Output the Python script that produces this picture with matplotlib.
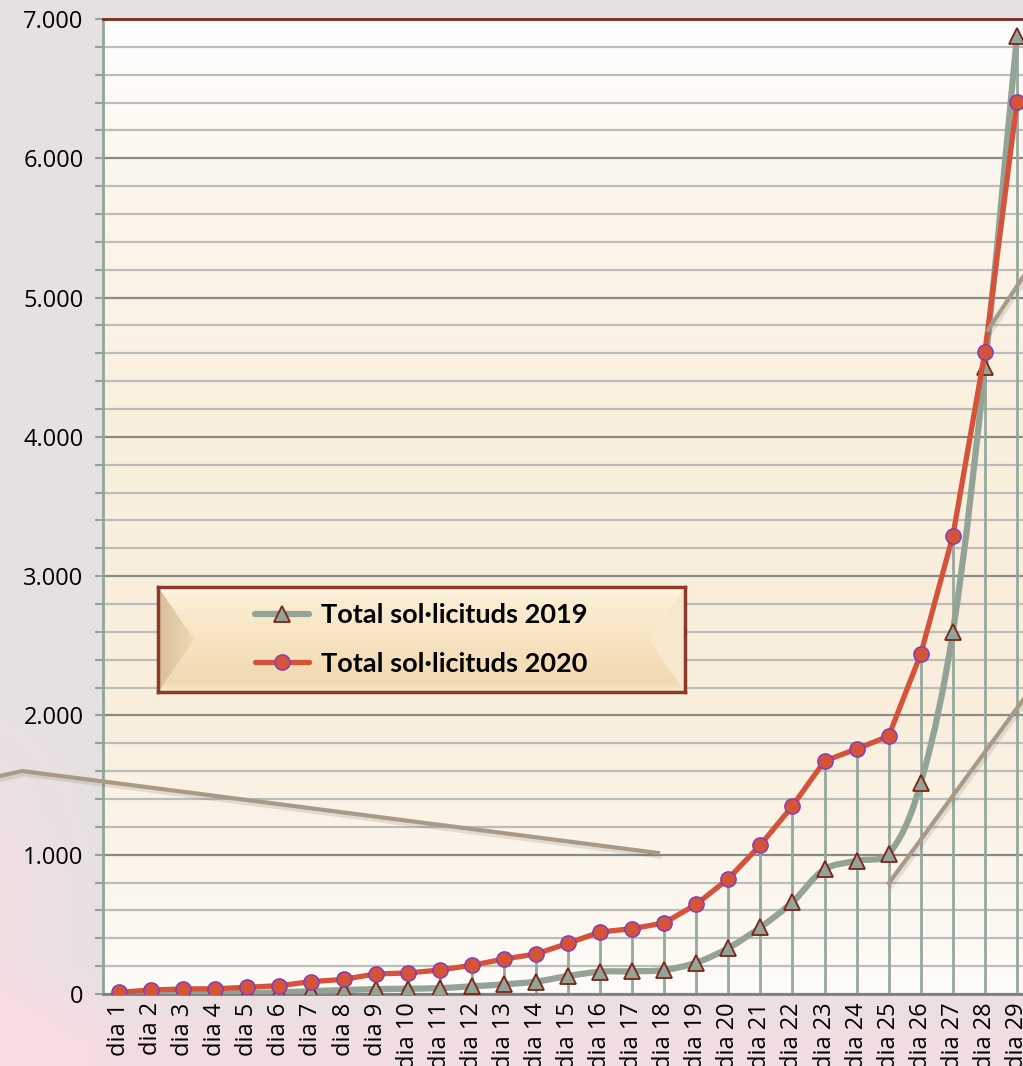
import numpy as np
import matplotlib
matplotlib.use("Agg")
import matplotlib.pyplot as plt
from matplotlib.path import Path
from matplotlib.patches import PathPatch
from matplotlib.lines import Line2D
from matplotlib import patheffects as pe
from matplotlib.colors import to_rgb

# data
days = [f"dia {i}" for i in range(1, 30)]
total_2019 = [2, 4, 5, 7, 8, 12, 20, 28, 35, 38, 42, 55, 69, 89, 129, 160, 163,
              172, 225, 330, 479, 660, 895, 957, 1005, 1515, 2599, 4501, 6878]
total_2020 = [12, 29, 36, 38, 48, 60, 89, 105, 144, 151, 172, 206, 251, 287, 364,
              445, 469, 510, 644, 828, 1070, 1350, 1673, 1759, 1852, 2441, 3288,
              4609, 6404]
labels = ["Total sol·licituds 2019", "Total sol·licituds 2020"]

W, H = 1023, 1066
GREY = "#93a396"
RED = "#d5523b"
TAN = "#a89a86"
TICK_FONT = "Open Sans"


def smooth_path(xs, ys, sx, sy):
    # bezier through the points, tangents worked out in screen scale (Excel-like smoothing)
    pts = np.column_stack([np.asarray(xs) * sx, np.asarray(ys) * sy]).astype(float)
    n = len(pts)
    verts = [pts[0]]
    codes = [Path.MOVETO]
    tang = []
    for i in range(n):
        d = pts[min(i + 1, n - 1)] - pts[max(i - 1, 0)]
        tang.append(d / np.hypot(*d))
    for i in range(n - 1):
        seg = np.hypot(*(pts[i + 1] - pts[i]))
        verts += [pts[i] + tang[i] * seg / 3.0, pts[i + 1] - tang[i + 1] * seg / 3.0, pts[i + 1]]
        codes += [Path.CURVE4] * 3
    verts = np.array(verts) / [sx, sy]
    return Path(verts, codes)


def vgradient(stops, n=300):
    t = np.linspace(0, 1, n)
    sx = [s[0] for s in stops]
    cols = np.array([to_rgb(s[1]) for s in stops])
    return np.stack([np.interp(t, sx, cols[:, k]) for k in range(3)], axis=-1)


fig = plt.figure(figsize=(W / 100, H / 100), dpi=100)

# blurred photo-like backdrop
bg = fig.add_axes([0, 0, 1, 1], zorder=-10)
yy, xx = np.mgrid[0:1:200j, 0:1:200j]
base = np.array(to_rgb("#e5e1e1"))
pink = np.array(to_rgb("#f5dde1"))
w = (np.clip((yy - 0.9) / 0.08, 0, 1) * 0.8
     + np.clip((0.12 - xx) / 0.12, 0, 1) * np.clip((yy - 0.62) / 0.2, 0, 1) * 0.7)
w = np.clip(w, 0, 1)[..., None]
bg.imshow(base * (1 - w) + pink * w, aspect="auto", extent=[0, 1, 1, 0])
bg.set_xlim(0, 1)
bg.set_ylim(1, 0)
bg.axis("off")

ax_w, ax_h = 930, 975
ax = fig.add_axes([103 / W, (H - 994) / H, ax_w / W, ax_h / H])
x = np.arange(1, len(days) + 1)

# plot area gradient
grad = vgradient([(0.0, "#ffffff"), (0.15, "#fcf7ee"), (0.4, "#faf0de"),
                  (0.7, "#f9eedb"), (0.86, "#fbf5ea"), (1.0, "#fefcf8")])[:, None, :]
ax.imshow(grad, extent=[0, 1, 0, 1], transform=ax.transAxes, aspect="auto", zorder=0)

ax.set_yticks(np.arange(0, 7001, 1000))
ax.set_yticks(np.arange(0, 7001, 200), minor=True)
ax.set_yticklabels([f"{v:,.0f}".replace(",", ".") for v in np.arange(0, 7001, 1000)],
                   family=TICK_FONT)
ax.grid(which="major", axis="y", color="#8a8a86", lw=1.6, zorder=1)
ax.grid(which="minor", axis="y", color="#bcbcb8", lw=1.6, zorder=1)
ax.set_axisbelow(True)

ax.set_xticks(x)
ax.set_xticklabels(days, rotation=90, family=TICK_FONT)
ax.tick_params(axis="x", length=0, pad=6, labelsize=17)
ax.tick_params(axis="y", which="both", length=6, width=1.5, color="#8fa598",
               labelsize=17, pad=8)

ax.spines["right"].set_visible(False)
ax.spines["left"].set_color("#8fa598")
ax.spines["left"].set_linewidth(2)
ax.spines["bottom"].set_color("#7f7f7f")
ax.spines["bottom"].set_linewidth(2)
ax.spines["top"].set_color("#7b2a1c")
ax.spines["top"].set_linewidth(2)

# drop lines
ax.vlines(x, 0, np.maximum(total_2019, total_2020), color="#97a89e", lw=2, zorder=2)

ax.set_xlim(0.5, len(days) + 0.5)
ax.set_ylim(0, 7000)
px_x = ax_w / len(days)
px_y = ax_h / 7000

# 2019 smoothed line
ax.add_patch(PathPatch(smooth_path(x, total_2019, px_x, px_y), fill=False, ec=GREY, lw=4.5,
                       capstyle="round", joinstyle="round", zorder=3))
ax.plot(x, total_2019, ls="none", marker="^", ms=11, mfc=GREY, mec="#7b2417",
        mew=1.3, zorder=4)

# 2020 line
ax.plot(x, total_2020, color=RED, lw=3.8, marker="o", ms=11, mfc=RED,
        mec="#7a3cc0", mew=1.0, solid_capstyle="round", zorder=5)

ax.set_xlim(0.5, len(days) + 0.5)
ax.set_ylim(0, 7000)

# legend box with bevel
lx0, ly0, lw_, lh_ = 158, 587, 527, 105
lax = fig.add_axes([lx0 / W, (H - ly0 - lh_) / H, lw_ / W, lh_ / H], zorder=5)
rows, cols = np.mgrid[0:lh_, 0:lw_].astype(float)
img = np.ones((lh_, lw_, 3)) * vgradient([(0, "#fffaf0"), (0.08, "#fbefd6"),
                                          (0.5, "#f6e3c1"), (0.92, "#f1dab2"),
                                          (1, "#f8e9cf")], lh_)[:, None, :]
dv = np.minimum(rows, lh_ - 1 - rows) / (lh_ / 2)
left = (cols / 36) < dv
right = ((lw_ - 1 - cols) / 36) < dv
lc = np.array(to_rgb("#d8c099"))
lc2 = np.array(to_rgb("#eedab4"))
t = np.clip(cols / 36, 0, 1)[..., None]
img[left] = (lc * (1 - t) + lc2 * t)[left]
img[right] = np.array(to_rgb("#f7e8cc"))
lax.imshow(img, aspect="auto", extent=[0, 1, 0, 1])
lax.set_xlim(0, 1)
lax.set_ylim(0, 1)
lax.set_xticks([])
lax.set_yticks([])
for s in lax.spines.values():
    s.set_color("#8b3b2b")
    s.set_linewidth(2.5)

handles = [
    Line2D([], [], color=GREY, lw=4.5, marker="^", ms=11, mfc=GREY, mec="#7b2417", mew=1.3,
           solid_capstyle="round"),
    Line2D([], [], color=RED, lw=3.8, marker="o", ms=11, mfc=RED, mec="#7a3cc0", mew=1.0,
           solid_capstyle="round"),
]
lax.legend(handles, labels, loc="center", frameon=False, handlelength=2.0,
           handletextpad=0.45, labelspacing=0.9, borderpad=0,
           prop={"family": "Lato", "weight": "bold", "size": 19.5})

# decorative strokes of the slide
decor = [
    ([0, 22, 658], [776, 771, 853]),
    ([889, 1023], [883, 700]),
    ([988, 1023], [330, 277]),
]
for dx, dy in decor:
    fig.add_artist(Line2D(np.array(dx) / W, 1 - np.array(dy) / H, transform=fig.transFigure,
                          color=TAN, lw=3, zorder=6,
                          path_effects=[pe.SimpleLineShadow(offset=(1.5, -2.5), alpha=0.15,
                                                            shadow_color="#555555"),
                                        pe.Normal()]))

fig.savefig("out.png", dpi=100)
